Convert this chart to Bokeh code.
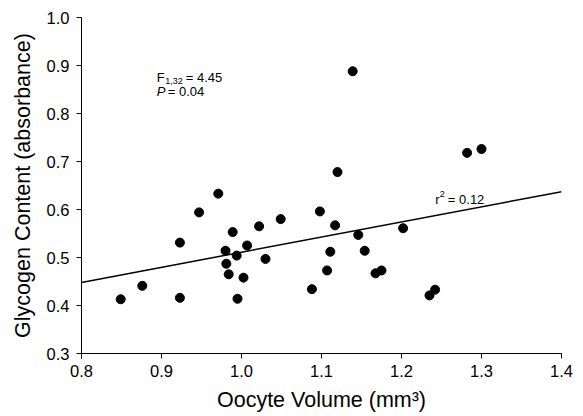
from bokeh.plotting import figure
from bokeh.models import Label, FixedTicker, PrintfTickFormatter
from bokeh.embed import file_html
from bokeh.resources import INLINE

# Data
oocyte_volume = [0.849, 0.876, 0.923, 0.923, 0.947, 0.971, 0.980, 0.981, 0.984, 0.989,
                 0.994, 0.995, 1.0025, 1.007, 1.022, 1.030, 1.049, 1.088, 1.098, 1.107,
                 1.111, 1.117, 1.120, 1.139, 1.146, 1.154, 1.1675, 1.175, 1.202, 1.235,
                 1.242, 1.282, 1.300]
glycogen = [0.413, 0.441, 0.416, 0.531, 0.594, 0.633, 0.514, 0.487, 0.465, 0.553,
            0.504, 0.414, 0.458, 0.525, 0.565, 0.497, 0.580, 0.434, 0.596, 0.473,
            0.512, 0.567, 0.678, 0.888, 0.547, 0.514, 0.467, 0.473, 0.561, 0.421,
            0.433, 0.718, 0.726]
fit_x = [0.8, 1.4]
fit_y = [0.448, 0.637]
x_ticks = [0.8, 0.9, 1.0, 1.1, 1.2, 1.3, 1.4]
y_ticks = [0.3, 0.4, 0.5, 0.6, 0.7, 0.8, 0.9, 1.0]

FONT = "Liberation Sans"

p = figure(frame_width=480, frame_height=336, x_range=(0.8, 1.4), y_range=(0.3, 1.0),
           output_backend="svg", toolbar_location=None,
           min_border_left=81, min_border_right=14, min_border_top=17, min_border_bottom=58)
p.outline_line_color = None
p.xgrid.visible = False
p.ygrid.visible = False
p.background_fill_color = "white"

for ax in (p.xaxis, p.yaxis):
    ax.axis_line_color = "black"
    ax.axis_line_width = 1
    ax.major_tick_line_color = "black"
    ax.major_tick_in = 0
    ax.major_tick_out = 5
    ax.minor_tick_line_color = None
    ax.major_label_text_font = FONT
    ax.major_label_text_font_size = "16.5px"
    ax.major_label_text_color = "black"
    ax.axis_label_text_font = FONT
    ax.axis_label_text_font_size = "21.5px"
    ax.axis_label_text_font_style = "normal"
    ax.axis_label_text_color = "black"
    ax.formatter = PrintfTickFormatter(format="%.1f")

p.xaxis.ticker = FixedTicker(ticks=x_ticks)
p.yaxis.ticker = FixedTicker(ticks=y_ticks)
p.xaxis.major_label_standoff = 6
p.yaxis.major_label_standoff = 7
p.xaxis.axis_label = "Oocyte Volume (mm³)"
p.yaxis.axis_label = "Glycogen Content (absorbance)"
p.xaxis.axis_label_standoff = 8
p.yaxis.axis_label_standoff = 9

p.line(fit_x, fit_y, line_color="black", line_width=1.5)
p.scatter(oocyte_volume, glycogen, size=9, fill_color="black", line_color="black")

def lab(x, y, text, xo=0, yo=0, size="13px", style="normal"):
    p.add_layout(Label(x=x, y=y, text=text, x_offset=xo, y_offset=yo,
                       text_font=FONT, text_font_size=size, text_font_style=style,
                       text_color="black", text_baseline="alphabetic"))

# F and P annotation
fx, fy = 0.894, 0.874
lab(fx, fy, "F")
lab(fx, fy, "1,32", xo=8.5, yo=-3.5, size="9px")
lab(fx, fy, "= 4.45", xo=29)
lab(fx, 0.845, "P", style="italic")
lab(fx, 0.845, "= 0.04", xo=11)

# r squared
rx, ry = 1.2423, 0.621
lab(rx, ry, "r")
lab(rx, ry, "2", xo=4.5, yo=5.5, size="9px")
lab(rx, ry, "= 0.12", xo=12.5)

open("out.html", "w").write(file_html(p, INLINE))
